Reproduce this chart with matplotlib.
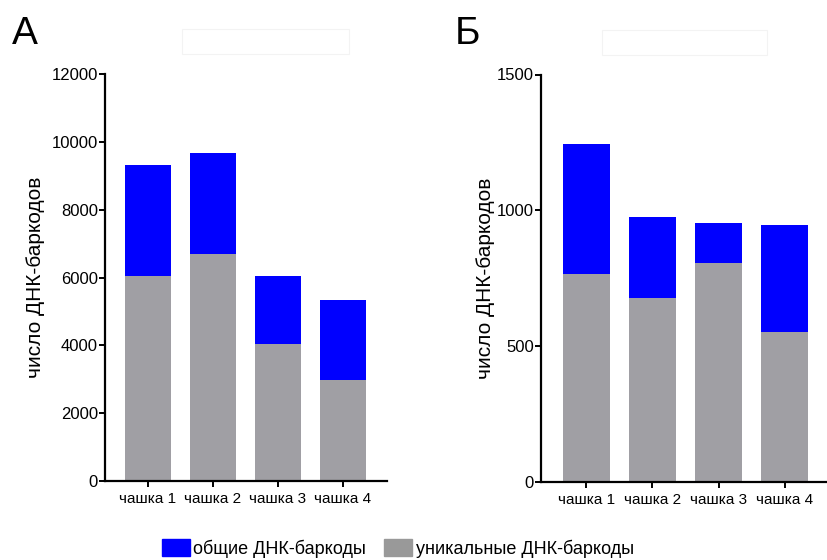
import matplotlib
matplotlib.use('Agg')
import matplotlib.pyplot as plt
from matplotlib.patches import Patch, Rectangle

plt.rcParams['font.family'] = ['Liberation Sans', 'DejaVu Sans']

# данные
cups = ['чашка 1', 'чашка 2', 'чашка 3', 'чашка 4']
uniq_a = [6050, 6680, 4050, 2970]     # уникальные, панель А
total_a = [9330, 9680, 6050, 5330]    # высота столбика целиком
uniq_b = [764, 676, 806, 552]         # уникальные, панель Б
total_b = [1243, 974, 952, 945]
ticks_a = [0, 2000, 4000, 6000, 8000, 10000, 12000]
ticks_b = [0, 500, 1000, 1500]

shared_a = [t - u for t, u in zip(total_a, uniq_a)]
shared_b = [t - u for t, u in zip(total_b, uniq_b)]

blue = '#0000ff'
gray = '#a09fa4'

fig = plt.figure(figsize=(8.27, 5.6), dpi=100)
ax1 = fig.add_axes([105 / 827, 1 - 481 / 560, (387 - 105) / 827, (481 - 74) / 560])
ax2 = fig.add_axes([541 / 827, 1 - 481.5 / 560, (826 - 541) / 827, (481.5 - 74.5) / 560])


def draw(ax, uniq, shared, ticks, xlim, label_x):
    x = range(len(cups))
    ax.bar(x, uniq, width=0.71, color=gray)
    ax.bar(x, shared, width=0.71, bottom=uniq, color=blue)
    ax.set_xlim(*xlim)
    ax.set_ylim(ticks[0], ticks[-1])
    ax.set_yticks(ticks)
    ax.set_xticks(list(x))
    ax.set_xticklabels(cups, fontsize=11)
    ax.tick_params(axis='y', labelsize=12, length=4, width=1.4, pad=1)
    ax.tick_params(axis='x', length=4, width=1.4, pad=4)
    for s in ['top', 'right']:
        ax.spines[s].set_visible(False)
    for s in ['left', 'bottom']:
        ax.spines[s].set_linewidth(1.6)
    ax.set_ylabel('число ДНК-баркодов', fontsize=15)
    ax.yaxis.set_label_coords(label_x, 0.5)


draw(ax1, uniq_a, shared_a, ticks_a, (-0.66, 3.68), -0.213)
draw(ax2, uniq_b, shared_b, ticks_b, (-0.68, 3.62), -0.161)

# буквы панелей
fig.text(12 / 827, 1 - 44 / 560, 'А', fontsize=28)
fig.text(455 / 827, 1 - 44 / 560, 'Б', fontsize=28)

# еле заметные рамки над графиками
fig.patches.append(Rectangle((182 / 827, 1 - 54 / 560), 167 / 827, 25 / 560,
                             transform=fig.transFigure, fill=False, edgecolor='#f3f3f3', lw=0.8))
fig.patches.append(Rectangle((602 / 827, 1 - 55 / 560), 165 / 827, 25 / 560,
                             transform=fig.transFigure, fill=False, edgecolor='#f3f3f3', lw=0.8))

handles = [Patch(color=blue, label='общие ДНК-баркоды'),
           Patch(color='#999999', label='уникальные ДНК-баркоды')]
fig.legend(handles=handles, loc='center', bbox_to_anchor=(0.481, 0.021), ncol=2,
           frameon=False, fontsize=13, handlelength=1.55, handleheight=1.05,
           handletextpad=0.2, columnspacing=1.0, borderpad=0)

fig.savefig('out.png', dpi=100)
